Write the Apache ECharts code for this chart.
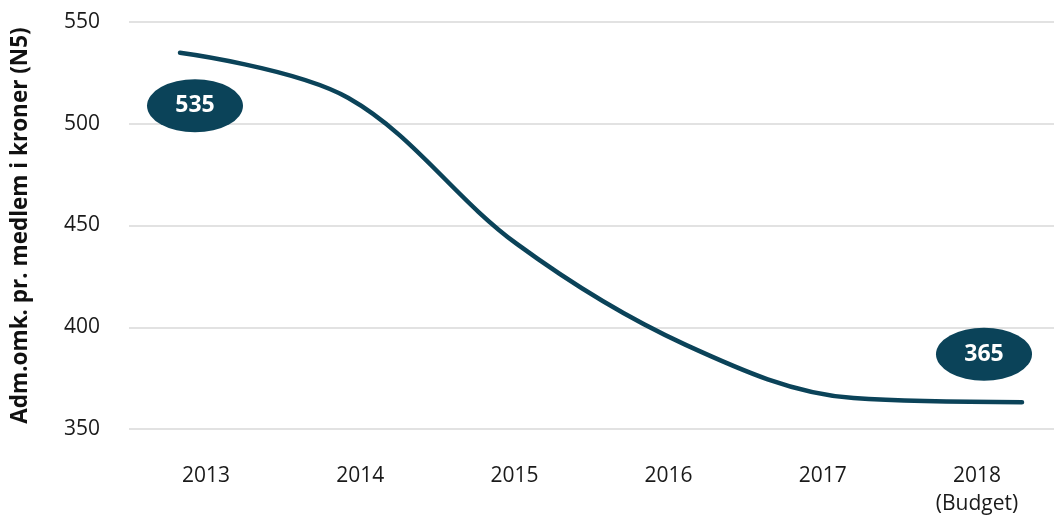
<!DOCTYPE html>
<html>
<head>
<meta charset="utf-8">
<script src="https://cdn.jsdelivr.net/npm/echarts@6/dist/echarts.min.js"></script>
<style>
html,body{margin:0;padding:0;background:#fff;}
#chart{width:1054px;height:518px;}
</style>
</head>
<body>
<div id="chart"></div>
<script>
const categories = ['2013', '2014', '2015', '2016', '2017', '2018\n(Budget)'];
const values = [535, 513, 442, 393, 367, 365];
const yMin = 350, yMax = 550, yStep = 50;
const yTitle = 'Adm.omk. pr. medlem i kroner (N5)';

const dark = '#0b4359';
const font = 'Open Sans';

const chart = echarts.init(document.getElementById('chart'), null, {renderer: 'canvas'});
const lastIdx = values.length - 1;

chart.setOption({
  animation: false,
  backgroundColor: '#fff',
  grid: [
    {left: 129, right: -10, top: 22, bottom: 85},
    {left: 180, right: 32, top: 22, bottom: 85}
  ],
  xAxis: [
    {
      type: 'category', gridIndex: 0, data: categories,
      axisLine: {show: false}, axisTick: {show: false},
      axisLabel: {color: '#1a1a1a', fontFamily: font, fontSize: 21, margin: 33, lineHeight: 28}
    },
    {type: 'value', gridIndex: 1, min: 0, max: lastIdx, show: false}
  ],
  yAxis: [
    {
      type: 'value', gridIndex: 0, min: yMin, max: yMax, interval: yStep,
      axisLine: {show: false}, axisTick: {show: false},
      axisLabel: {color: '#1a1a1a', fontFamily: font, fontSize: 21, margin: 29},
      splitLine: {lineStyle: {color: '#d9d9d9', width: 1.5}},
      name: yTitle, nameLocation: 'middle', nameGap: 97,
      nameTextStyle: {color: '#111', fontFamily: font, fontSize: 22.5, fontWeight: 'bold'}
    },
    {type: 'value', gridIndex: 1, min: yMin, max: yMax, show: false}
  ],
  series: [{
    type: 'line', xAxisIndex: 1, yAxisIndex: 1,
    data: values.map((v, i) => [i, v]),
    smooth: 0.35, showSymbol: false,
    lineStyle: {color: dark, width: 4.5, cap: 'round'},
    markPoint: {
      symbol: 'path://M-1,0A1,1,0,1,0,1,0A1,1,0,1,0,-1,0Z',
      symbolSize: [96, 53],
      itemStyle: {color: dark},
      label: {show: true, color: '#fff', fontFamily: font, fontSize: 23, fontWeight: 'bold', formatter: '{c}'},
      data: [
        {coord: [0, values[0]], value: values[0], symbolOffset: [15, 53]},
        {coord: [lastIdx, values[lastIdx]], value: values[lastIdx], symbolOffset: [-38, -48]}
      ]
    }
  }]
});
</script>
</body>
</html>
